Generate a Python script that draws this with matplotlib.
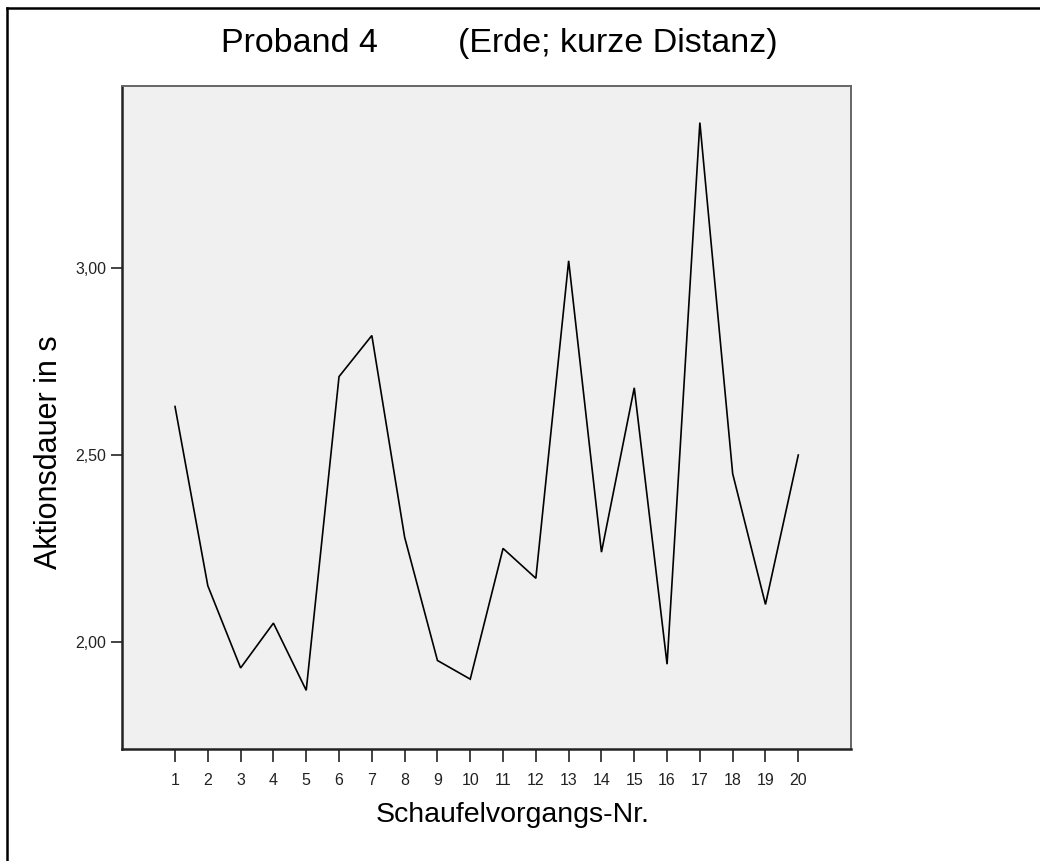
"""
Line chart: Aktionsdauer per Schaufelvorgang (Proband 4, Erde; kurze Distanz).
"""

import matplotlib
matplotlib.use('Agg')
import matplotlib.pyplot as plt
from matplotlib.lines import Line2D
from matplotlib.ticker import FuncFormatter


# Data
vorgang = list(range(1, 21))
dauer = [2.63, 2.15, 1.93, 2.05, 1.87, 2.71, 2.82, 2.28, 1.95, 1.90,
         2.25, 2.17, 3.02, 2.24, 2.68, 1.94, 3.39, 2.45, 2.10, 2.50]
y_ticks = [2.0, 2.5, 3.0]

FONT = ['Liberation Sans', 'DejaVu Sans']
plt.rcParams['font.family'] = FONT

W, H = 1040, 861
fig = plt.figure(figsize=(W / 100, H / 100), dpi=100)
fig.patch.set_facecolor('white')

left, right, top, bottom = 122, 851, 86, 749
ax = fig.add_axes([left / W, 1 - bottom / H, (right - left) / W, (bottom - top) / H])
ax.set_facecolor('#f0f0f0')

ax.plot(vorgang, dauer, color='black', linewidth=1.2, solid_joinstyle='miter')

ax.set_xlim(-0.616, 21.607)
ax.set_ylim(1.713, 3.488)
ax.set_xticks(vorgang)
ax.set_yticks(y_ticks)
ax.yaxis.set_major_formatter(FuncFormatter(lambda v, p: f"{v:.2f}".replace('.', ',')))

ax.tick_params(axis='x', length=9, width=1.2, pad=8, labelsize=11.5, colors='#222222')
ax.tick_params(axis='y', length=8, width=1.2, pad=3.5, labelsize=11.5, colors='#222222')

for side in ('left', 'bottom'):
    ax.spines[side].set_color('#222222')
    ax.spines[side].set_linewidth(1.8)
for side in ('top', 'right'):
    ax.spines[side].set_color('#666666')
    ax.spines[side].set_linewidth(1.4)

# Title in two parts, as in the reference
fig.text(221 / W, 1 - 52 / H, 'Proband 4', fontsize=24.5, ha='left', va='baseline')
fig.text(458 / W, 1 - 52 / H, '(Erde; kurze Distanz)', fontsize=24.5, ha='left', va='baseline')

# Axis labels
fig.text(376 / W, 1 - 822 / H, 'Schaufelvorgangs-Nr.', fontsize=20.5, ha='left', va='baseline')
fig.text(49 / W, 1 - 452.5 / H, 'Aktionsdauer in s', fontsize=22, rotation=90,
         ha='center', va='center')

# Outer frame (only top and left edges are visible in the crop)
fig.add_artist(Line2D([7 / W, 1], [1 - 8 / H, 1 - 8 / H], color='black', linewidth=1.8,
                      transform=fig.transFigure))
fig.add_artist(Line2D([7 / W, 7 / W], [0, 1 - 8 / H], color='black', linewidth=1.8,
                      transform=fig.transFigure))

plt.savefig('out.png', dpi=100)
plt.close()
